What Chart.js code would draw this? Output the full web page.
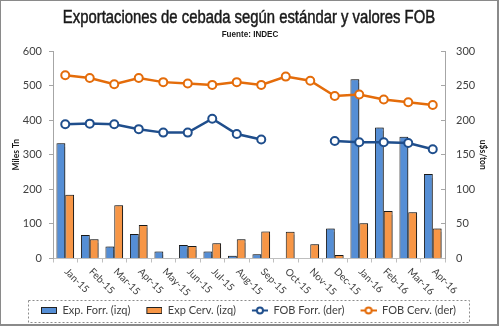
<!DOCTYPE html>
<html>
<head>
<meta charset="utf-8">
<script src="https://cdn.jsdelivr.net/npm/chart.js@4/dist/chart.umd.min.js"></script>
<style>
  html,body{margin:0;padding:0;background:#fff;}
  #wrap{position:relative;width:499px;height:326px;}
  #frame{position:absolute;left:0;top:0;width:499px;height:326px;box-sizing:border-box;border:1px solid #8a8a8a;border-right-width:2px;border-bottom-width:2px;pointer-events:none;}
  canvas{position:absolute;left:0;top:0;}
</style>
</head>
<body>
<div id="wrap">
<canvas id="c" width="499" height="326"></canvas>
<div id="frame"></div>
</div>
<script>
const categories = ["Jan-15","Feb-15","Mar-15","Apr-15","May-15","Jun-15","Jul-15","Aug-15","Sep-15","Oct-15","Nov-15","Dec-15","Jan-16","Feb-16","Mar-16","Apr-16"];
const expForr  = [333, 68, 35, 71, 20, 39, 20, 8, 12, 0, 0, 87, 518, 379, 352, 244];
const expCerv  = [184, 56, 154, 97, 1, 36, 44, 56, 78, 77, 41, 10, 102, 137, 134, 87];
const fobForr  = [194, 195, 194, 187, 182, 182, 202, 180, 172, null, null, 170, 168, 168, 167, 158];
const fobCerv  = [265, 261, 252, 261, 255, 253, 251, 255, 251, 263, 257, 235, 237, 230, 226, 222];
const leftTicks = [0, 100, 200, 300, 400, 500, 600];
const rightTicks = [0, 50, 100, 150, 200, 250, 300];
const seriesNames = ["Exp. Forr. (izq)", "Exp Cerv. (izq)", "FOB Forr. (der)", "FOB Cerv. (der)"];
const titleText = "Exportaciones de cebada según estándar y valores FOB";
const subtitleText = "Fuente: INDEC";

const BLUE_BAR = '#558ed5', ORANGE_BAR = '#f79646';
const BLUE_LINE = '#1f4e8c', ORANGE_LINE = '#e46c0a';
const TXT = '#404040';
const ICON_W = 28;

function boxIcon(fill){
  const c = document.createElement('canvas'); c.width = ICON_W; c.height = 9;
  const g = c.getContext('2d');
  g.fillStyle = fill; g.fillRect(ICON_W-15.5, 1.5, 15, 6);
  g.strokeStyle = '#222'; g.lineWidth = 1; g.strokeRect(ICON_W-15.5, 1.5, 15, 6);
  return c;
}
function lineIcon(col){
  const c = document.createElement('canvas'); c.width = ICON_W; c.height = 9;
  const g = c.getContext('2d');
  g.strokeStyle = col; g.lineWidth = 2;
  g.beginPath(); g.moveTo(ICON_W-16, 4.5); g.lineTo(ICON_W, 4.5); g.stroke();
  g.beginPath(); g.arc(ICON_W-8, 4.5, 3, 0, Math.PI*2); g.fillStyle = '#fff'; g.fill(); g.stroke();
  return c;
}
const icons = [boxIcon(BLUE_BAR), boxIcon(ORANGE_BAR), lineIcon(BLUE_LINE), lineIcon(ORANGE_LINE)];

const decorPlugin = {
  id: 'decor',
  afterLayout(chart){
    const lg = chart.legend;
    lg.left -= 7; lg.right -= 7;
  },
  afterDraw(chart){
    const ctx = chart.ctx, xs = chart.scales.x;
    ctx.save();
    // title (narrow)
    ctx.fillStyle = '#1a1a1a';
    ctx.strokeStyle = '#1a1a1a';
    ctx.textAlign = 'center';
    ctx.textBaseline = 'alphabetic';
    ctx.save();
    ctx.translate(249, 23);
    ctx.scale(0.825, 1);
    ctx.font = "18px 'Liberation Sans', Arial, sans-serif";
    ctx.lineWidth = 0.5;
    ctx.fillText(titleText, 0, 0);
    ctx.strokeText(titleText, 0, 0);
    ctx.restore();
    ctx.save();
    ctx.translate(250, 37);
    ctx.scale(0.9, 1);
    ctx.font = "bold 9px 'Liberation Sans', Arial, sans-serif";
    ctx.fillText(subtitleText, 0, 0);
    ctx.restore();
    // x labels rotated clockwise
    ctx.font = '10px Lato, sans-serif';
    ctx.fillStyle = TXT;
    ctx.textAlign = 'left';
    ctx.textBaseline = 'middle';
    categories.forEach((lab, i) => {
      const x = xs.getPixelForValue(i);
      ctx.save();
      ctx.translate(x + 1, xs.top + 11.5);
      ctx.rotate(Math.PI / 4);
      ctx.fillText(lab, 0, 0);
      ctx.restore();
    });
    // dashed legend frame
    const lg = chart.legend;
    ctx.strokeStyle = '#8c8c8c';
    ctx.lineWidth = 1;
    ctx.setLineDash([2, 2]);
    ctx.strokeRect(28.5, Math.round(lg.top) - 0.5, 441, 22);
    ctx.restore();
  }
};
const shadowPlugin = {
  id: 'barshadow',
  beforeDatasetDraw(chart, args){
    if (args.meta.type === 'bar'){
      const ctx = chart.ctx; ctx.save();
      ctx.shadowColor = 'rgba(0,0,0,0.35)'; ctx.shadowOffsetX = 1.5; ctx.shadowOffsetY = 0; ctx.shadowBlur = 1;
    }
  },
  afterDatasetDraw(chart, args){
    if (args.meta.type === 'bar') chart.ctx.restore();
  }
};

new Chart(document.getElementById('c'), {
  data: {
    labels: categories,
    datasets: [
      {type:'bar', label: seriesNames[0], data: expForr, backgroundColor: BLUE_BAR, borderColor:'#1a1a1a', borderWidth:1, yAxisID:'y', order:2, categoryPercentage:0.72, barPercentage:1.0},
      {type:'bar', label: seriesNames[1], data: expCerv, backgroundColor: ORANGE_BAR, borderColor:'#1a1a1a', borderWidth:1, yAxisID:'y', order:2, categoryPercentage:0.72, barPercentage:1.0},
      {type:'line', label: seriesNames[2], data: fobForr, borderColor: BLUE_LINE, borderWidth:2.5, pointRadius:4, pointBorderWidth:2, pointBackgroundColor:'#fff', pointBorderColor: BLUE_LINE, yAxisID:'y1', order:0, spanGaps:false, tension:0},
      {type:'line', label: seriesNames[3], data: fobCerv, borderColor: ORANGE_LINE, borderWidth:2.5, pointRadius:4, pointBorderWidth:2, pointBackgroundColor:'#fff', pointBorderColor: ORANGE_LINE, yAxisID:'y1', order:0, tension:0}
    ]
  },
  options: {
    responsive:false,
    animation:false,
    layout:{padding:{left:8, right:8, top:51, bottom:0}},
    plugins:{
      title:{display:false},
      legend:{position:'bottom', labels:{
        usePointStyle:true, pointStyleWidth:ICON_W, boxHeight:9, padding:4, color:TXT,
        font:{family:'Lato, sans-serif', size:11},
        generateLabels(chart){
          return chart.data.datasets.map((d,i)=>({text:d.label, pointStyle:icons[i], fillStyle:'#fff', strokeStyle:'#fff', lineWidth:0, hidden:false, datasetIndex:i, fontColor:TXT}));
        }
      }},
      tooltip:{enabled:false}
    },
    scales:{
      x:{
        offset:true,
        grid:{display:true, drawOnChartArea:false, drawTicks:true, tickLength:4, color:'#bfbfbf', offset:true},
        border:{display:true, color:'#bfbfbf'},
        ticks:{display:false},
        afterFit(s){ s.height = 42.5; }
      },
      y:{
        position:'left', min:0, max:600,
        afterBuildTicks(s){ s.ticks = leftTicks.map(v=>({value:v})); },
        grid:{display:true, drawOnChartArea:false, drawTicks:true, tickLength:4, color:'#a6a6a6'},
        border:{display:true, color:'#a6a6a6'},
        ticks:{color:TXT, padding:7, font:{family:'Lato, sans-serif', size:11}},
        title:{display:true, text:'Miles Tn', color:'#1a1a1a', font:{family:'Lato, sans-serif', size:8.5, weight:'bold'}, padding:{top:3,bottom:0}},
        afterFit(s){ s.width = 45; }
      },
      y1:{
        position:'right', min:0, max:300,
        afterBuildTicks(s){ s.ticks = rightTicks.map(v=>({value:v})); },
        grid:{display:true, drawOnChartArea:false, drawTicks:true, tickLength:-4, color:'#a6a6a6'},
        border:{display:true, color:'#a6a6a6'},
        ticks:{color:TXT, padding:15, font:{family:'Lato, sans-serif', size:11}},
        title:{display:true, text:'u$s/ton', color:'#1a1a1a', font:{family:'Lato, sans-serif', size:8.5, weight:'bold'}, padding:{top:3,bottom:0}},
        afterFit(s){ s.width = 46; }
      }
    }
  },
  plugins:[decorPlugin, shadowPlugin]
});
</script>
</body>
</html>
